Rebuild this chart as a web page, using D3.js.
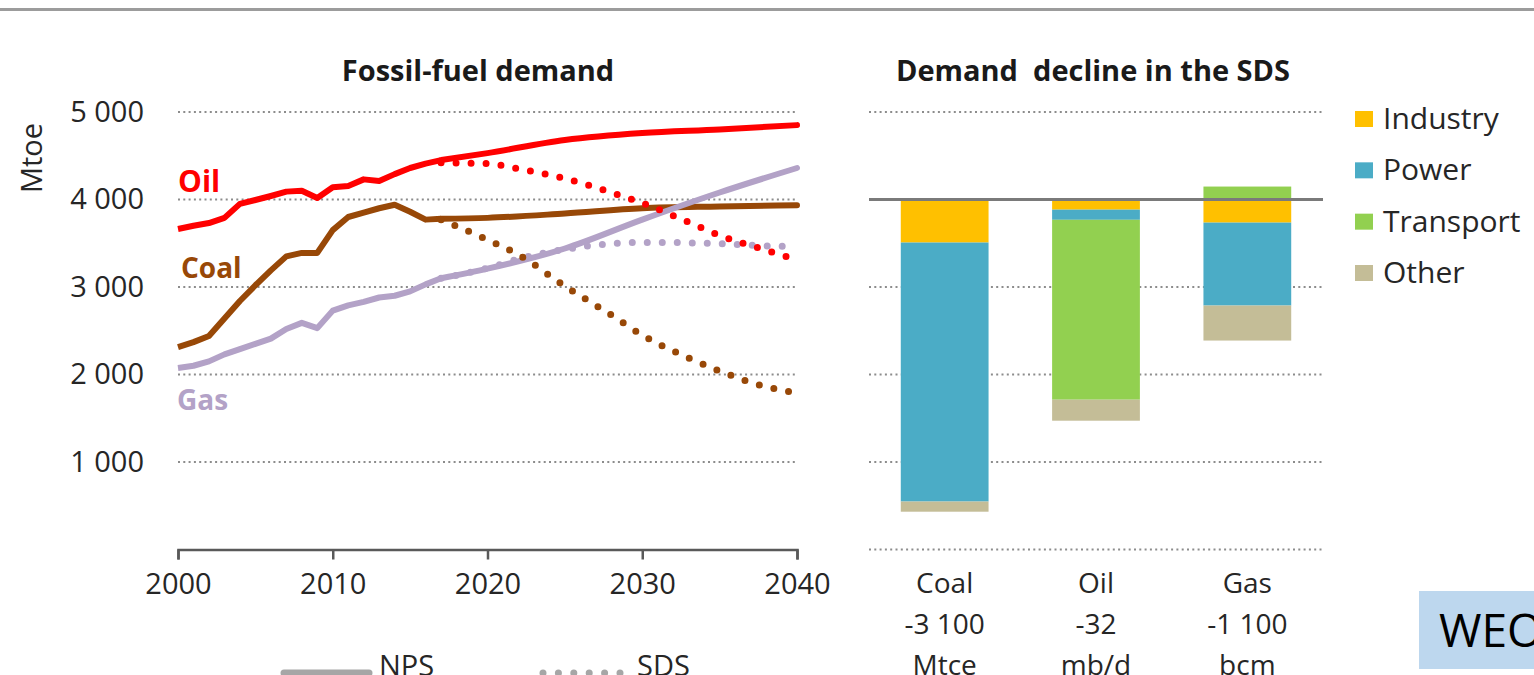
<!DOCTYPE html>
<html><head><meta charset="utf-8">
<script src="https://cdn.jsdelivr.net/npm/d3@7"></script>
<style>
html,body{margin:0;padding:0;background:#fff;overflow:hidden}
svg{display:block;font-family:"Open Sans",Lato,sans-serif}
</style></head><body>
<svg id="chart" width="1534" height="675"></svg>
<script>
// ---------- data ----------
const histYears = [2000,2001,2002,2003,2004,2005,2006,2007,2008,2009,2010,2011,2012,2013,2014,2015,2016,2017];
const oilHist  = [3663,3700,3731,3790,3950,3994,4040,4090,4100,4017,4140,4155,4230,4211,4290,4360,4410,4450];
const coalHist = [2314,2370,2440,2640,2840,3020,3190,3350,3390,3390,3650,3800,3850,3900,3940,3860,3770,3780];
const gasHist  = [2075,2100,2150,2230,2290,2350,2410,2520,2590,2530,2730,2790,2830,2880,2900,2950,3030,3100];

const npsYears = [2017,2020,2025,2030,2035,2040];
const oilNPS   = [4450,4530,4680,4760,4800,4850];
const coalNPS  = [3780,3790,3840,3900,3920,3935];
const gasNPS   = [3100,3210,3440,3770,4080,4360];

const sdsYears = [2017,2020,2022,2025,2028,2030,2033,2035,2038,2040];
const oilSDS   = [4420,4410,4350,4240,4080,3960,3740,3590,3420,3310];
const coalSDS  = [3770,3540,3370,3010,2680,2450,2190,2040,1860,1790];
const gasSDS   = [3100,3215,3320,3430,3495,3510,3505,3495,3470,3460];

const fuelNames  = ["Oil","Coal","Gas"];
const fuelColors = ["#FF0000","#984807","#B3A2C7"];

const yTicks = [1000,2000,3000,4000,5000];
const xTicks = [2000,2010,2020,2030,2040];

// right panel (decline by sector, index units)
const barCats   = ["Coal","Oil","Gas"];
const barValues = ["-3 100","-32","-1 100"];
const barUnits  = ["Mtce","mb/d","bcm"];
const sectors   = ["Industry","Power","Transport","Other"];
const sectorColors = ["#FFC000","#4BACC6","#92D050","#C4BD97"];
const industry  = [-12.3,-2.9,-6.6];
const power     = [-74.0,-2.9,-23.7];
const transport = [0,-51.4,3.7];
const other     = [-2.9,-6.0,-10.0];
const barGrid   = [-100,-75,-50,-25,25];

// ---------- drawing ----------
const svg = d3.select("#chart");
const W = 1534, H = 675;
const txt = "#262626";
const fmt = d3.formatLocale({decimal:".",thousands:"\u00a0",grouping:[3],currency:["",""]}).format(",d");

// top rule
svg.append("line").attr("x1",0).attr("x2",W).attr("y1",9.5).attr("y2",9.5)
  .attr("stroke","#9c9c9c").attr("stroke-width",3);

// ---- left panel ----
const x = d3.scaleLinear().domain([2000,2040]).range([178,797]);
const y = d3.scaleLinear().domain([0,5000]).range([549.5,112]);

svg.append("g").selectAll("line").data(yTicks).join("line")
  .attr("x1",x(2000)).attr("x2",x(2040)).attr("y1",d=>y(d)).attr("y2",d=>y(d))
  .attr("stroke","#8c8c8c").attr("stroke-width",2).attr("stroke-dasharray","2 3.3");

const yAx = svg.append("g").attr("transform",`translate(${x(2000)},0)`)
  .call(d3.axisLeft(y).tickValues(yTicks).tickSize(0).tickPadding(34).tickFormat(fmt));
yAx.select(".domain").remove();
yAx.selectAll("text").attr("font-size",29).attr("fill",txt).attr("font-family","'Open Sans'");

const xAx = svg.append("g").attr("transform",`translate(0,${y(0)})`)
  .call(d3.axisBottom(x).tickValues(xTicks).tickSize(10).tickSizeOuter(10).tickPadding(14).tickFormat(d3.format("d")));
xAx.select(".domain").attr("stroke","#595959").attr("stroke-width",2.5);
xAx.selectAll(".tick line").attr("stroke","#595959").attr("stroke-width",2.5);
xAx.selectAll("text").attr("font-size",29).attr("fill",txt).attr("font-family","'Open Sans'");

svg.append("text").attr("transform","translate(42,158) rotate(-90)")
  .attr("text-anchor","middle").attr("font-size",29).attr("fill",txt).text("Mtoe");

svg.append("text").attr("x",478).attr("y",81).attr("text-anchor","middle")
  .attr("font-size",29).attr("font-weight","bold").attr("fill","#1a1a1a").text("Fossil-fuel demand");

const lineLin = d3.line().x(d=>x(d[0])).y(d=>y(d[1]));
const lineSm  = d3.line().x(d=>x(d[0])).y(d=>y(d[1])).curve(d3.curveMonotoneX);
const zip = (a,b)=>a.map((v,i)=>[v,b[i]]);

const hist = [oilHist,coalHist,gasHist];
const nps  = [oilNPS,coalNPS,gasNPS];
const sds  = [oilSDS,coalSDS,gasSDS];

// solid (history + NPS)
[1,2,0].forEach(i=>{
  svg.append("path").attr("d",lineLin(zip(histYears,hist[i])))
    .attr("fill","none").attr("stroke",fuelColors[i]).attr("stroke-width",6)
    .attr("stroke-linejoin","round");
  svg.append("path").attr("d",lineSm(zip(npsYears,nps[i])))
    .attr("fill","none").attr("stroke",fuelColors[i]).attr("stroke-width",6)
    .attr("stroke-linecap","round");
});
// dotted SDS
[2,1,0].forEach(i=>{
  svg.append("path").attr("d",lineSm(zip(sdsYears,sds[i])))
    .attr("fill","none").attr("stroke",fuelColors[i]).attr("stroke-width",7)
    .attr("stroke-linecap","round").attr("stroke-dasharray","0 15");
});

const labelPos = [[178,192],[181,278],[177,410]];
const labelSize = [30,28,28];
fuelNames.forEach((n,i)=>{
  svg.append("text").attr("x",labelPos[i][0]).attr("y",labelPos[i][1])
    .attr("font-size",labelSize[i]).attr("font-weight","bold").attr("fill",fuelColors[i]).text(n);
});

// bottom legend
svg.append("line").attr("x1",284).attr("x2",369).attr("y1",673).attr("y2",673)
  .attr("stroke","#a6a6a6").attr("stroke-width",7).attr("stroke-linecap","round");
svg.append("text").attr("x",379).attr("y",676).attr("font-size",29).attr("fill",txt).text("NPS");
svg.append("line").attr("x1",543).attr("x2",620).attr("y1",673).attr("y2",673)
  .attr("stroke","#a6a6a6").attr("stroke-width",7).attr("stroke-linecap","round")
  .attr("stroke-dasharray","0 15.4");
svg.append("text").attr("x",637).attr("y",676).attr("font-size",29).attr("fill",txt).text("SDS");

// ---- right panel ----
const xb = d3.scaleBand().domain(barCats).range([869,1323]).paddingInner(0.42).paddingOuter(0.21);
const yr = d3.scaleLinear().domain([-100,25]).range([549.5,112]);

svg.append("g").selectAll("line").data(barGrid).join("line")
  .attr("x1",869).attr("x2",1323).attr("y1",d=>yr(d)).attr("y2",d=>yr(d))
  .attr("stroke","#8c8c8c").attr("stroke-width",2).attr("stroke-dasharray","2 3.3");

const rows = barCats.map((c,i)=>({cat:c,Industry:industry[i],Power:power[i],Transport:transport[i],Other:other[i]}));
const stacked = d3.stack().keys(sectors).offset(d3.stackOffsetDiverging)(rows);

svg.append("g").selectAll("g").data(stacked).join("g")
  .attr("fill",(d,i)=>sectorColors[i])
  .selectAll("rect").data(d=>d).join("rect")
  .attr("x",d=>xb(d.data.cat)).attr("width",xb.bandwidth())
  .attr("y",d=>yr(Math.max(d[0],d[1])))
  .attr("height",d=>Math.abs(yr(d[0])-yr(d[1])));

svg.append("line").attr("x1",869).attr("x2",1323).attr("y1",yr(0)).attr("y2",yr(0))
  .attr("stroke","#7a7a7a").attr("stroke-width",3);

svg.append("text").attr("x",1093).attr("y",81).attr("text-anchor","middle")
  .style("white-space","pre")
  .attr("font-size",29).attr("font-weight","bold").attr("fill","#1a1a1a").text("Demand  decline in the SDS");

barCats.forEach((c,i)=>{
  const cx = xb(c)+xb.bandwidth()/2;
  [c,barValues[i],barUnits[i]].forEach((t,j)=>{
    svg.append("text").attr("x",cx).attr("y",593+41*j).attr("text-anchor","middle")
      .attr("font-size",28).attr("fill",txt).text(t);
  });
});

// right legend
const ly = d3.scalePoint().domain(sectors).range([119,273]);
const lg = svg.append("g").selectAll("g").data(sectors).join("g")
  .attr("transform",d=>`translate(1355,${ly(d)})`);
lg.append("rect").attr("x",0).attr("y",-8).attr("width",18).attr("height",16)
  .attr("fill",(d,i)=>sectorColors[i]);
lg.append("text").attr("x",28).attr("y",10).attr("font-size",30).attr("fill",txt).text(d=>d);

// WEO badge
svg.append("rect").attr("x",1419).attr("y",591).attr("width",120).attr("height",78).attr("fill","#BDD7EE");
svg.append("text").attr("x",1439).attr("y",647).attr("font-family","'Open Sans'")
  .attr("font-size",46).attr("fill","#000").text("WEO");
</script>
</body></html>
